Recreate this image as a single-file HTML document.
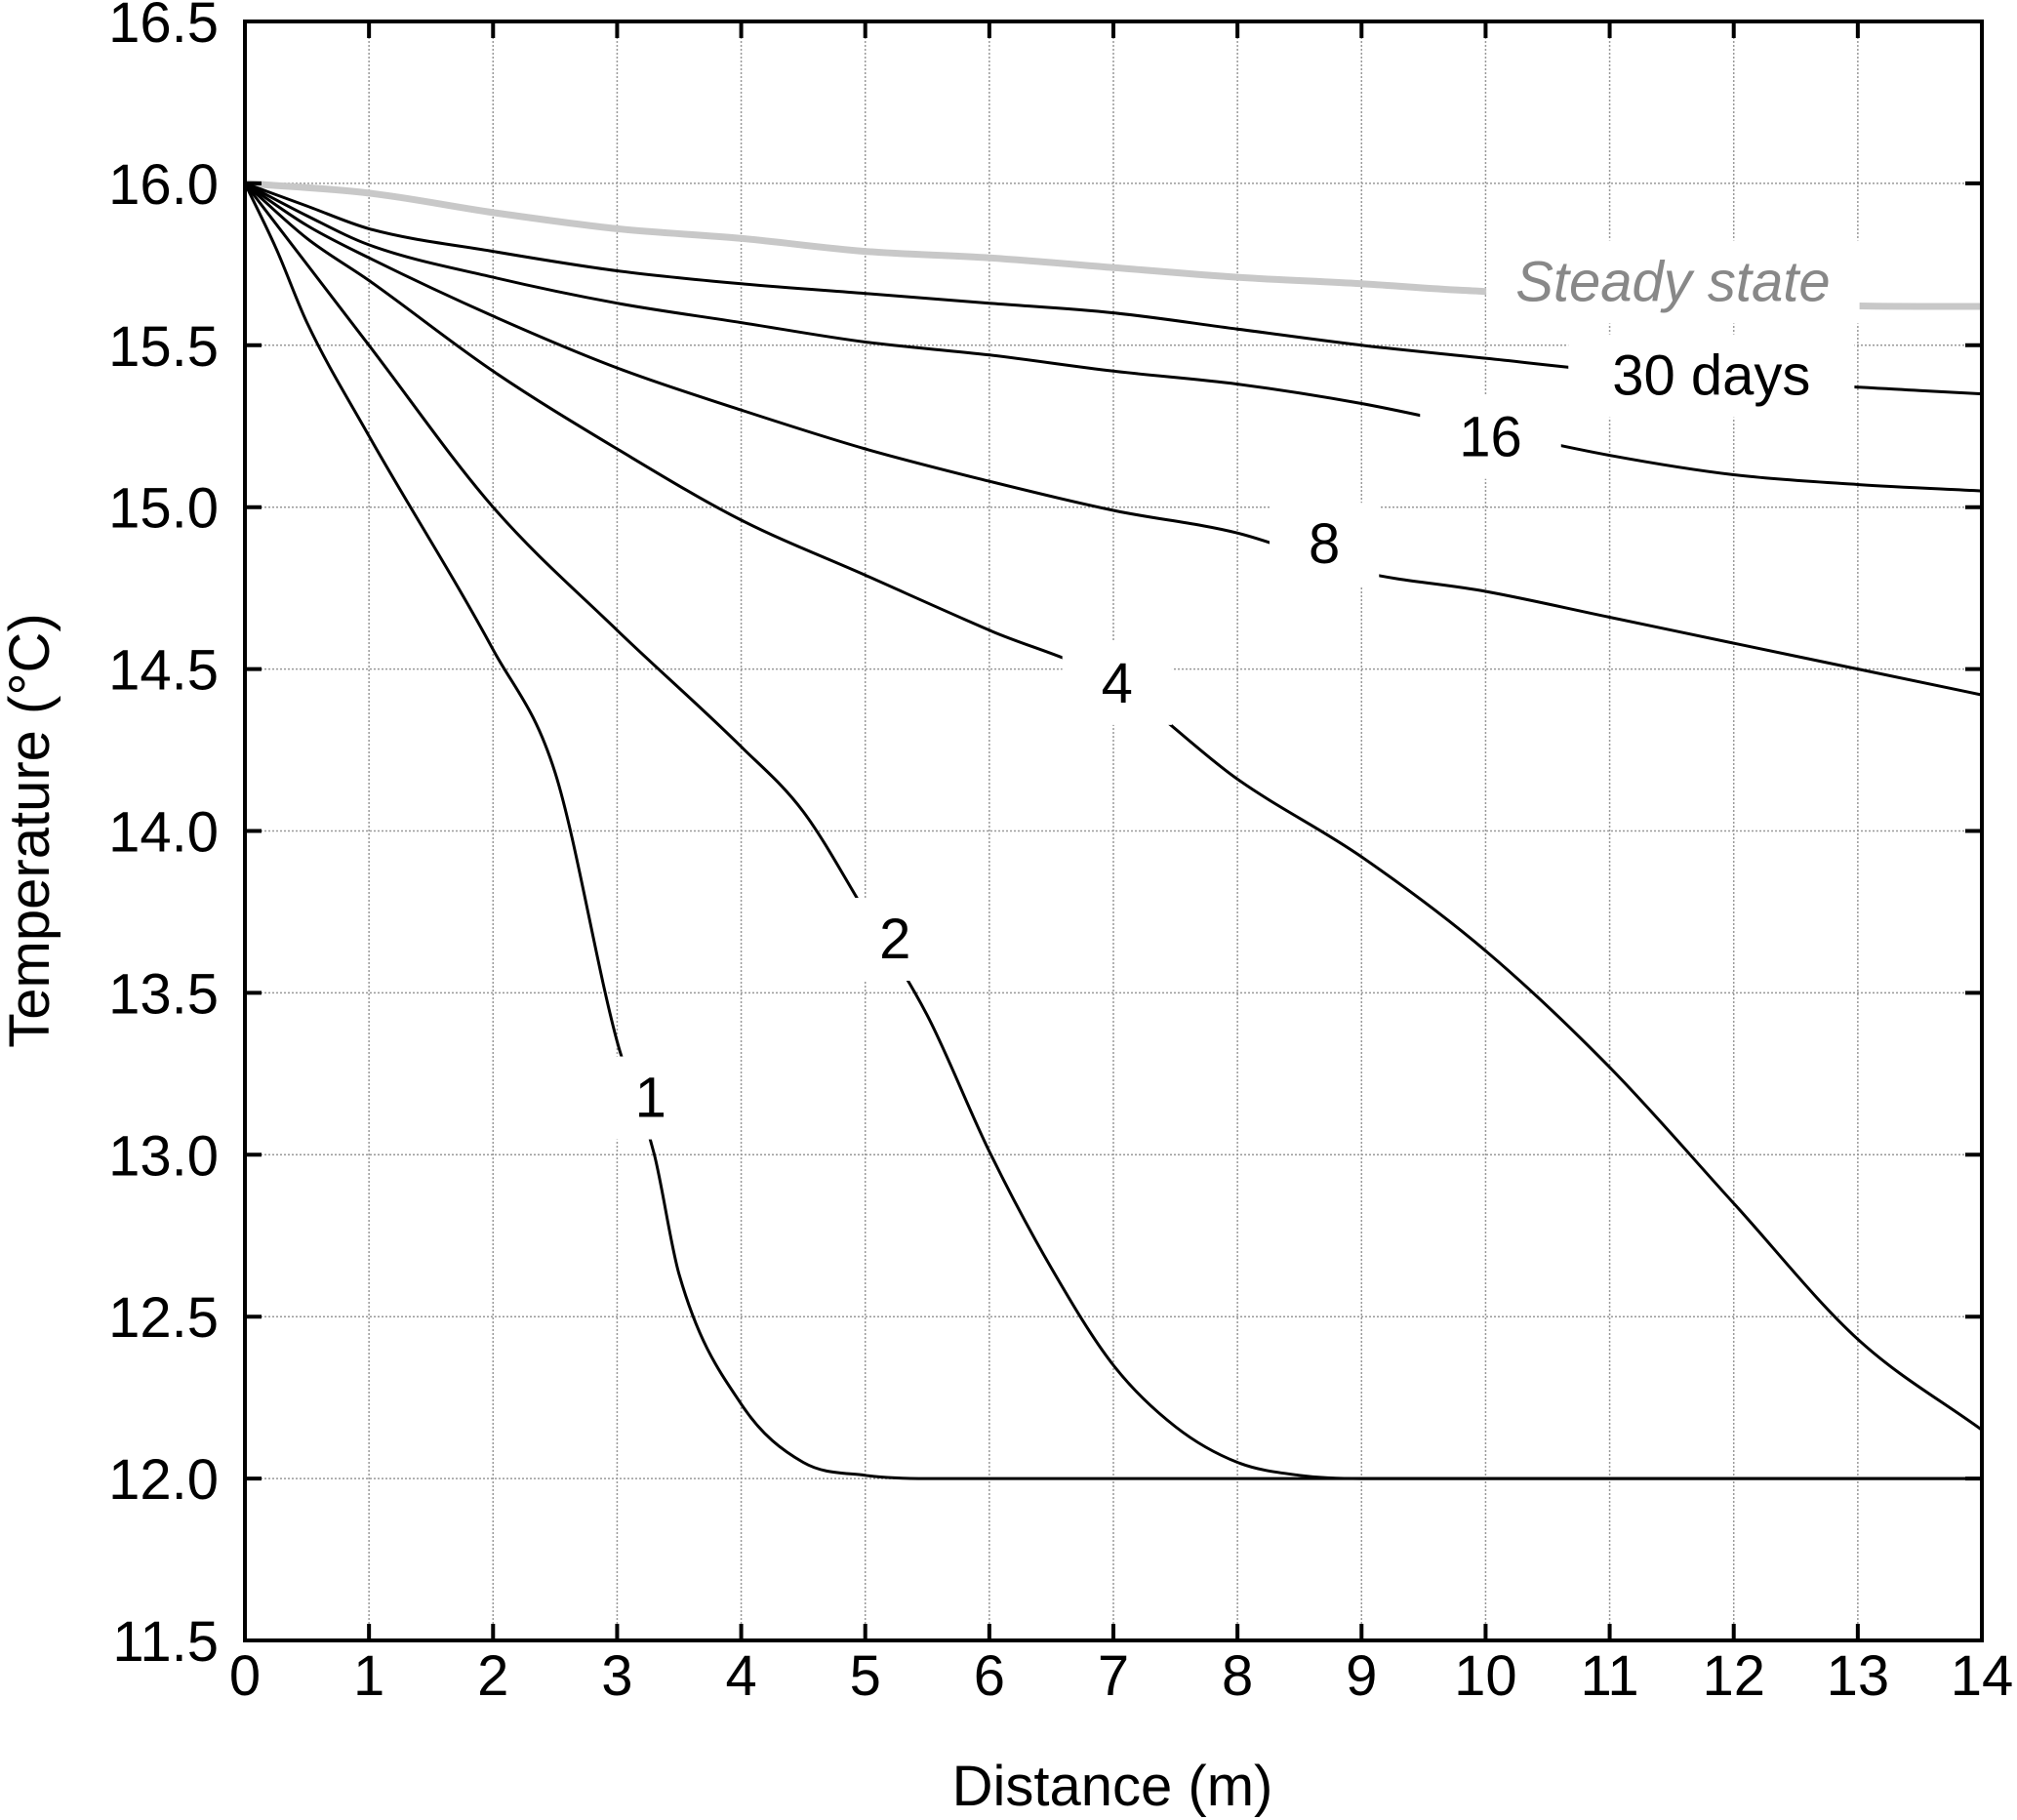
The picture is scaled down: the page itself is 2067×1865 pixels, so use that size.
<!DOCTYPE html>
<html><head><meta charset="utf-8"><style>
html,body{margin:0;padding:0;background:#fff}
svg{display:block;font-family:"Liberation Sans",Arial,sans-serif}
</style></head><body>
<svg id="chart" width="2067" height="1865" viewBox="0 0 2067 1865" xmlns="http://www.w3.org/2000/svg">
<g id="grid"></g>
<g id="series"></g>
<g id="labels"></g>
<g id="axes"></g>
</svg>
<script>
const xTicks=[0,1,2,3,4,5,6,7,8,9,10,11,12,13,14];
const yTicks=[11.5,12.0,12.5,13.0,13.5,14.0,14.5,15.0,15.5,16.0,16.5];
const xSteady=[0,1,2,3,4,5,6,7,8,9,9.8,13.5,14];
const ySteady=[16.0,15.97,15.91,15.86,15.83,15.79,15.77,15.74,15.71,15.69,15.67,15.62,15.62];
const x30=[0,0.5,1,2,3,4,5,6,7,8,9,10,11,13.5,14];
const y30=[16.0,15.93,15.86,15.79,15.73,15.69,15.66,15.63,15.6,15.55,15.5,15.46,15.42,15.36,15.35];
const x16=[0,0.5,1,2,3,4,5,6,7,8,9,10,11,12,13,14];
const y16=[16.0,15.9,15.81,15.71,15.63,15.57,15.51,15.47,15.42,15.38,15.32,15.24,15.16,15.1,15.07,15.05];
const x8=[0,0.5,1,2,3,4,5,6,7,8,9,10,11,12,13,14];
const y8=[16.0,15.87,15.77,15.59,15.43,15.3,15.18,15.08,14.99,14.92,14.8,14.74,14.66,14.58,14.5,14.42];
const x4=[0,0.5,1,2,3,4,5,6,7,8,9,10,11,12,13,14];
const y4=[16.0,15.83,15.7,15.42,15.18,14.96,14.79,14.62,14.46,14.16,13.92,13.63,13.27,12.85,12.43,12.15];
const x2=[0,0.5,1,2,3,4,4.5,5,5.5,6,6.5,7,7.5,8,8.5,9,10,14];
const y2=[16.0,15.75,15.5,15.0,14.62,14.26,14.06,13.75,13.43,13.01,12.65,12.35,12.16,12.05,12.01,12.0,12.0,12.0];
const x1=[0,0.25,0.5,1,2,2.5,3,3.3,3.5,4,4.5,5,5.5,6,14];
const y1=[16.0,15.8,15.57,15.22,14.56,14.18,13.35,13.0,12.63,12.23,12.05,12.01,12.0,12.0,12.0];
const labelText=["Steady state","30 days","16","8","4","2","1"];
const labelX=[11.51,11.82,10.04,8.7,7.03,5.24,3.27];
const labelY=[15.70,15.41,15.22,14.89,14.46,13.67,13.18];

const L=251,R=2031,T=22,B=1681;
const sx=v=>L+(v-0)/14*(R-L);
const sy=v=>B-(v-11.5)/5*(B-T);
const NS="http://www.w3.org/2000/svg";
function mk(tag,attrs,parent){const e=document.createElementNS(NS,tag);for(const k in attrs)e.setAttribute(k,attrs[k]);parent.appendChild(e);return e;}
const grid=document.getElementById('grid'),series=document.getElementById('series'),labels=document.getElementById('labels'),axes=document.getElementById('axes');

xTicks.forEach(v=>{
  const g=mk('line',{x1:sx(v),x2:sx(v),y1:T,y2:B,stroke:'#999','stroke-width':1.5,'stroke-dasharray':'2,2'},grid);
  
  
  const t1=mk('line',{x1:sx(v),x2:sx(v),y1:B,y2:B-17,stroke:'#000','stroke-width':4},axes);
  
  
  const t2=mk('line',{x1:sx(v),x2:sx(v),y1:T,y2:T+17,stroke:'#000','stroke-width':4},axes);
  
  
  const tx=mk('text',{x:sx(v),y:1737,'text-anchor':'middle','font-size':58,fill:'#000'},axes);
  tx.textContent=String(v);
  
  
});
yTicks.forEach(v=>{
  const g=mk('line',{x1:L,x2:R,y1:sy(v),y2:sy(v),stroke:'#999','stroke-width':1.5,'stroke-dasharray':'2,2'},grid);
  
  
  const t1=mk('line',{x1:L,x2:L+17,y1:sy(v),y2:sy(v),stroke:'#000','stroke-width':4},axes);
  
  
  const t2=mk('line',{x1:R,x2:R-17,y1:sy(v),y2:sy(v),stroke:'#000','stroke-width':4},axes);
  
  
  const tx=mk('text',{x:224,y:sy(v)+21,'text-anchor':'end','font-size':58,fill:'#000'},axes);
  tx.textContent=v.toFixed(1);
  
  
});
const frame=mk('rect',{x:L,y:T,width:R-L,height:B-T,fill:'none',stroke:'#000','stroke-width':4},axes);



// monotone cubic (Fritsch-Carlson) to avoid overshoot
function curve(xs,ys,name,col,w){
  const n=xs.length,px=xs.map(sx),py=ys.map(sy);
  const d=[],m=new Array(n);
  for(let i=0;i<n-1;i++)d.push((py[i+1]-py[i])/(px[i+1]-px[i]));
  m[0]=d[0];m[n-1]=d[n-2];
  for(let i=1;i<n-1;i++){m[i]=(d[i-1]*d[i]<=0)?0:(d[i-1]+d[i])/2;}
  for(let i=0;i<n-1;i++){
    if(d[i]===0){m[i]=0;m[i+1]=0;continue;}
    const a=m[i]/d[i],b=m[i+1]/d[i],s=a*a+b*b;
    if(s>9){const t=3/Math.sqrt(s);m[i]=t*a*d[i];m[i+1]=t*b*d[i];}
  }
  let p='M'+px[0].toFixed(1)+','+py[0].toFixed(1);
  for(let i=0;i<n-1;i++){
    const h=(px[i+1]-px[i])/3;
    p+=` C${(px[i]+h).toFixed(1)},${(py[i]+m[i]*h).toFixed(1)} ${(px[i+1]-h).toFixed(1)},${(py[i+1]-m[i+1]*h).toFixed(1)} ${px[i+1].toFixed(1)},${py[i+1].toFixed(1)}`;
  }
  const e=mk('path',{d:p,fill:'none',stroke:col,'stroke-width':w,'stroke-linejoin':'round'},series);
  
  
}
curve(xSteady,ySteady,'steady-state-line','#c8c8c8',7);
curve(x30,y30,'line-30-days','#000',3);
curve(x16,y16,'line-16-days','#000',3);
curve(x8,y8,'line-8-days','#000',3);
curve(x4,y4,'line-4-days','#000',3);
curve(x2,y2,'line-2-days','#000',3);
curve(x1,y1,'line-1-day','#000',3);

labelText.forEach((s,i)=>{
  const steady=i===0;
  const t=mk('text',{x:sx(labelX[i]),y:sy(labelY[i])+21,'text-anchor':'middle','font-size':58,fill:steady?'#888':'#000','font-style':steady?'italic':'normal'},labels);
  t.textContent=s;
  
  
  const bb=t.getBBox();
  const pad=steady?30:(s.length>2?45:40);
  const r=mk('rect',{x:bb.x-pad,y:bb.y-10,width:bb.width+2*pad,height:bb.height+20,fill:'#fff'},labels);
  
  
  labels.insertBefore(r,t);
});

const xt=mk('text',{x:1140,y:1850,'text-anchor':'middle','font-size':58,fill:'#000'},axes);
xt.textContent='Distance (m)';


const yt=mk('text',{x:0,y:0,'text-anchor':'middle','font-size':58,fill:'#000',transform:'translate(50,851) rotate(-90)'},axes);
yt.textContent='Temperature (°C)';


</script>
</body></html>
